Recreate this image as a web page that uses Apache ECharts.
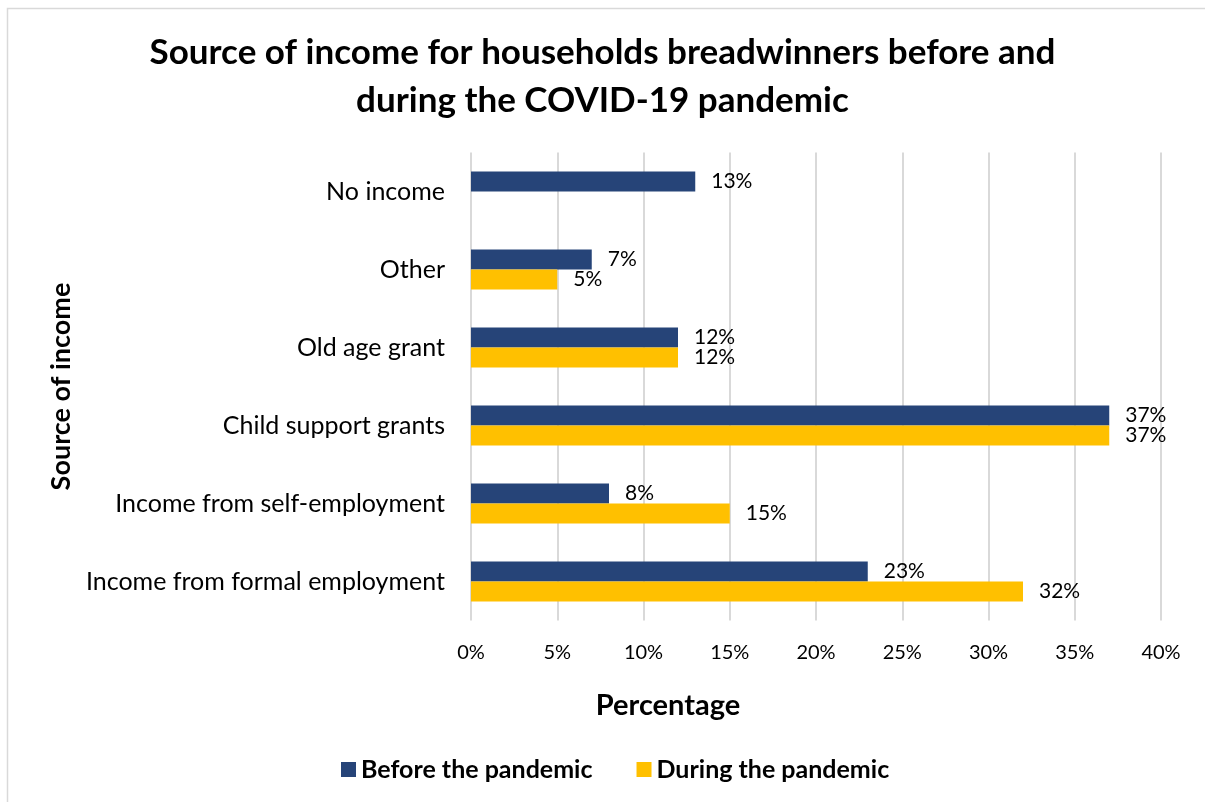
<!DOCTYPE html>
<html><head><meta charset="utf-8">
<script src="https://cdn.jsdelivr.net/npm/echarts@6/dist/echarts.min.js"></script>
<style>html,body{margin:0;padding:0;background:#fff}#c{width:1205px;height:802px}</style>
</head><body><div id="c"></div>
<script>
const categories = ["Income from formal employment","Income from self-employment","Child support grants","Old age grant","Other","No income"];
const beforeValues = [23, 8, 37, 12, 7, 13];
const duringValues = [32, 15, 37, 12, 5, null];
const xTicks = [0,5,10,15,20,25,30,35,40];
const seriesNames = ["Before the pandemic","During the pandemic"];
const xAxisTitle = "Percentage";
const FONT = "Lato";
const chart = echarts.init(document.getElementById('c'));
const lbl = {show:true, position:'right', distance:16, formatter: p => p.value==null ? '' : p.value + '%', color:'#000', fontFamily:FONT, fontSize:21};
chart.setOption({
  animation:false,
  graphic:[
    {type:'rect', shape:{x:7.5,y:8.5,width:1210,height:810}, style:{fill:'none', stroke:'#d9d9d9', lineWidth:1.5}, silent:true},
    {type:'text', x:668, y:706, style:{text:xAxisTitle, fontFamily:FONT, fontWeight:'bold', fontSize:29, fill:'#000', textAlign:'center', textVerticalAlign:'middle'}, silent:true}
  ],
  title:{text:"Source of income for households breadwinners before and\nduring the COVID-19 pandemic", left:'center', top:24,
    textStyle:{fontFamily:FONT, fontWeight:'bold', fontSize:35, color:'#000', lineHeight:48}},
  legend:{data:seriesNames, bottom:15, left:336, itemWidth:15, itemHeight:15, itemGap:44, icon:'rect',
    textStyle:{fontFamily:FONT, fontWeight:'bold', fontSize:25, color:'#000'}},
  grid:{left:471, right:44, top:152.5, bottom:181.5, containLabel:false},
  xAxis:{type:'value', min:0, max:40, interval:5,
    axisLabel:{formatter:'{value}%', fontFamily:FONT, fontSize:20, color:'#000', margin:22},
    splitLine:{show:true, lineStyle:{color:'#d9d9d9', width:2}},
    axisLine:{show:false}, axisTick:{show:false}},
  yAxis:{type:'category', data:categories,
    axisLabel:{fontFamily:FONT, fontSize:25, color:'#000', margin:26},
    axisLine:{show:false}, axisTick:{show:false},
    name:'Source of income', nameLocation:'middle', nameGap:395, nameRotate:90,
    nameTextStyle:{fontFamily:FONT, fontWeight:'bold', fontSize:27, color:'#000'}},
  series:[
    {name:seriesNames[0], type:'bar', data:beforeValues, itemStyle:{color:'#264478'}, barWidth:20, barGap:'0%', label:lbl},
    {name:seriesNames[1], type:'bar', data:duringValues, itemStyle:{color:'#ffc000'}, barWidth:20, barGap:'0%', label:lbl}
  ]
});
</script></body></html>
